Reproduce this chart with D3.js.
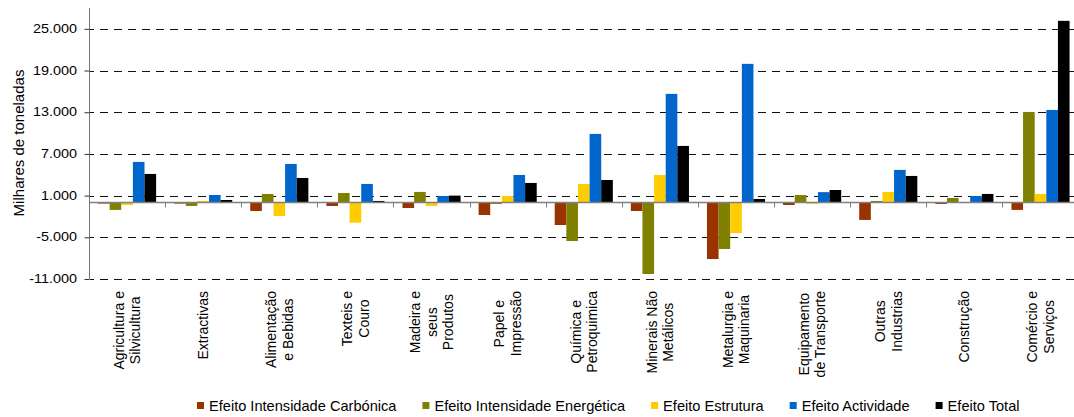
<!DOCTYPE html>
<html>
<head>
<meta charset="utf-8">
<script src="https://cdn.jsdelivr.net/npm/d3@7"></script>
<style>
  html, body { margin: 0; padding: 0; background: #fff; }
  svg { display: block; }
  text { font-family: "Liberation Sans", Arial, sans-serif; fill: #000; }
</style>
</head>
<body>
<svg id="chart" width="1074" height="417"></svg>
<script>
// Sectors (line breaks mark the wrapped label lines)
const categories = [
  "Agricultura e\nSilvicultura",
  "Extractivas",
  "Alimentação\ne Bebidas",
  "Texteis e\nCouro",
  "Madeira e\nseus\nProdutos",
  "Papel e\nImpressão",
  "Química e\nPetroquimica",
  "Minerais Não\nMetálicos",
  "Metalurgia e\nMaquinaria",
  "Equipamento\nde Transporte",
  "Outras\nIndustrias",
  "Construção",
  "Comércio e\nServiços"
];

// Decomposition effects, thousand tonnes
const seriesNames = [
  "Efeito Intensidade Carbónica",
  "Efeito Intensidade Energética",
  "Efeito Estrutura",
  "Efeito Actividade",
  "Efeito Total"
];
const intensidadeCarbonica  = [-150, -150, -1210, -490, -780, -1790, -3230, -1210, -8120, -350, -2500, -200, -1060];
const intensidadeEnergetica = [-1060, -490, 1240, 1380, 1530, -200, -5530, -10280, -6680, 1080, 230, 660, 13040];
const estrutura             = [-350, 230, -1930, -2890, -490, 950, 2680, 3970, -4380, -170, 1530, 0, 1240];
const actividade            = [5850, 1090, 5560, 2680, 950, 3970, 9880, 15640, 19960, 1500, 4700, 950, 13330];
const total                 = [4120, 370, 3540, 230, 1000, 2820, 3250, 8150, 520, 1810, 3830, 1240, 26150];

const seriesColors = ["#993300", "#808000", "#FFCC00", "#0066CC", "#000000"];

// Axis ticks
const tickValues = [-11000, -5000, 1000, 7000, 13000, 19000, 25000];
const tickLabels = ["-11.000", "-5.000", "1.000", "7.000", "13.000", "19.000", "25.000"];
const yTitle = "Milhares de toneladas";

const allSeries = [intensidadeCarbonica, intensidadeEnergetica, estrutura, actividade, total];

const svg = d3.select("#chart");
const W = 1074;

const plotLeft = 89, bandW = 76.12;
const x = d3.scaleBand()
  .domain(categories)
  .range([plotLeft, plotLeft + bandW * categories.length])
  .paddingInner(0).paddingOuter(0);

const xs = d3.scaleBand()
  .domain(d3.range(seriesNames.length))
  .range([9, bandW - 9])
  .padding(0);

const y = d3.scaleLinear().domain([-11000, 28000]).range([279, 8]);

// Dashed gridlines
svg.append("g").selectAll("line")
  .data(tickValues)
  .join("line")
  .attr("x1", plotLeft + 1).attr("x2", W)
  .attr("y1", d => Math.round(y(d)) + 0.5)
  .attr("y2", d => Math.round(y(d)) + 0.5)
  .attr("stroke", "#111")
  .attr("stroke-width", 1)
  .attr("stroke-dasharray", "8,6")
  .attr("stroke-dashoffset", -10);

// Bars
const groups = svg.append("g").selectAll("g")
  .data(categories)
  .join("g")
  .attr("transform", d => `translate(${x(d)},0)`);

groups.selectAll("rect")
  .data((d, i) => allSeries.map((s, k) => ({ k, v: s[i] })))
  .join("rect")
  .attr("x", d => xs(d.k))
  .attr("width", xs.bandwidth())
  .attr("y", d => Math.min(y(0), y(d.v)))
  .attr("height", d => Math.abs(y(d.v) - y(0)))
  .attr("fill", d => seriesColors[d.k]);

// Y axis
const yAxis = d3.axisLeft(y).tickValues(tickValues).tickSize(5).tickFormat("");
const yg = svg.append("g").attr("transform", `translate(${plotLeft + 0.5},0)`).call(yAxis);
yg.select(".domain").attr("stroke", "#777").attr("d", `M0,${y(28000)}V${y(-11000)}`);
yg.selectAll(".tick line").attr("stroke", "#333");

svg.append("g").selectAll("text")
  .data(tickValues)
  .join("text")
  .attr("transform", d => `translate(77,${y(d)}) scale(1.2,1)`)
  .attr("text-anchor", "end")
  .attr("dominant-baseline", "central")
  .style("font-size", "12px")
  .text((d, i) => tickLabels[i]);

svg.append("text")
  .attr("transform", "translate(18,143) rotate(-90)")
  .attr("text-anchor", "middle")
  .attr("dominant-baseline", "central")
  .style("font-size", "15px")
  .text(yTitle);

// X axis along zero
const xAxisY = y(0);
svg.append("line")
  .attr("x1", plotLeft).attr("x2", W)
  .attr("y1", xAxisY).attr("y2", xAxisY)
  .attr("stroke", "#808080").attr("stroke-width", 1.5);
svg.append("g").selectAll("line")
  .data(d3.range(1, categories.length))
  .join("line")
  .attr("x1", i => Math.round(plotLeft + i * bandW) + 0.5)
  .attr("x2", i => Math.round(plotLeft + i * bandW) + 0.5)
  .attr("y1", xAxisY).attr("y2", xAxisY + 5)
  .attr("stroke", "#808080");

// Category labels, rotated, lines centred within the label block
const labelTop = 291, lineGap = 16.5;
categories.forEach(cat => {
  const lines = cat.split("\n");
  const cx = x(cat) + bandW / 2;
  const g = svg.append("g");
  const texts = lines.map((ln, j) => {
    const lx = cx + (j - (lines.length - 1) / 2) * lineGap;
    return g.append("text")
      .attr("text-anchor", "middle")
      .attr("dominant-baseline", "central")
      .style("font-size", "14px")
      .datum(lx)
      .text(ln);
  });
  const maxW = d3.max(texts, t => t.node().getComputedTextLength());
  const cy = labelTop + maxW / 2;
  texts.forEach(t => t.attr("transform", `translate(${t.datum()},${cy}) rotate(-90)`));
});

// Legend
const legend = svg.append("g");
let lx = 197;
const legY = 405.5;
seriesNames.forEach((name, k) => {
  legend.append("rect")
    .attr("x", lx).attr("y", legY - 3.5)
    .attr("width", 7).attr("height", 7)
    .attr("fill", seriesColors[k]);
  const t = legend.append("text")
    .attr("x", lx + 12).attr("y", legY)
    .attr("dominant-baseline", "central")
    .style("font-size", "14.6px")
    .text(name);
  lx += 12 + t.node().getComputedTextLength() + 26;
});
</script>
</body>
</html>
